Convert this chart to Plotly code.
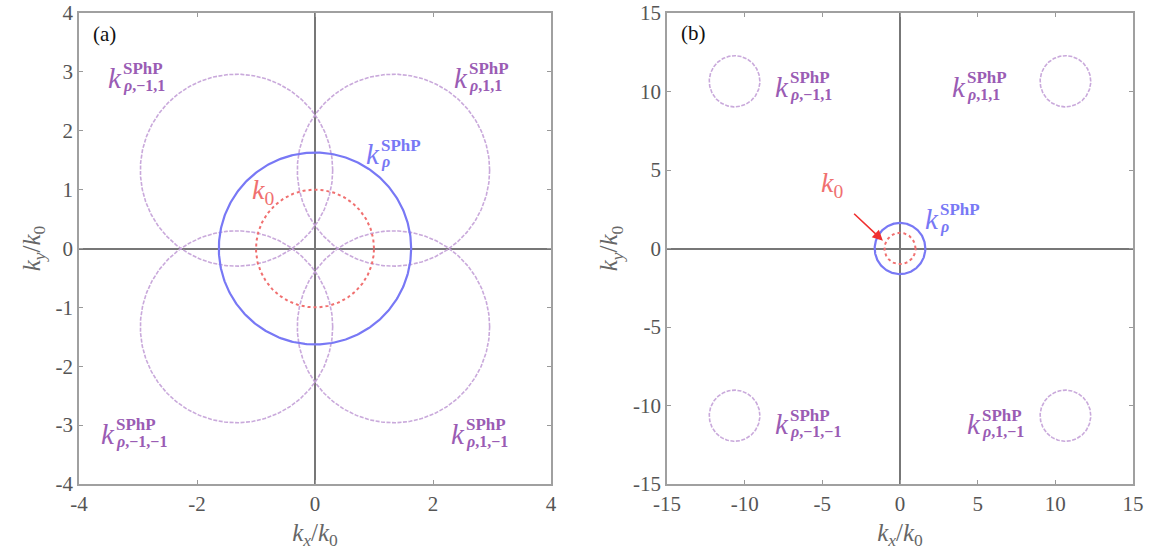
import numpy as np
import plotly.graph_objects as go

# Radii (in units of k0) and reciprocal-lattice offsets for the two cases
k0_radius = 1.0
ksphp_radius = 1.63
G_a = 1.33          # lattice offset, panel (a)
G_b = 10.65         # lattice offset, panel (b)
diff_orders = [(-1, 1), (1, 1), (-1, -1), (1, -1)]

axis_range_a = [-4, 4]
axis_range_b = [-15, 15]
xticks_a = [-4, -2, 0, 2, 4]
yticks_a = [-4, -3, -2, -1, 0, 1, 2, 3, 4]
ticks_b = [-15, -10, -5, 0, 5, 10, 15]

RED = "#f07070"
BLUE = "#7878f5"
PURPLE_LINE = "rgba(195,160,215,0.9)"
PURPLE_TXT = "#9a5cb4"
SERIF = "Liberation Serif, Times New Roman, DejaVu Serif, serif"

theta = np.linspace(0, 2 * np.pi, 361)


def circle(cx, cy, r):
    return cx + r * np.cos(theta), cy + r * np.sin(theta)


fig = go.Figure()

for (xa, ya, G) in [("x", "y", G_a), ("x2", "y2", G_b)]:
    for (m, n) in diff_orders:
        cx, cy = circle(m * G, n * G, ksphp_radius)
        fig.add_trace(go.Scatter(x=cx, y=cy, mode="lines", xaxis=xa, yaxis=ya,
                                 line=dict(color=PURPLE_LINE, width=1.6, dash="4px,1.5px"),
                                 hoverinfo="skip", showlegend=False))
    cx, cy = circle(0, 0, ksphp_radius)
    fig.add_trace(go.Scatter(x=cx, y=cy, mode="lines", xaxis=xa, yaxis=ya,
                             line=dict(color=BLUE, width=2.2),
                             hoverinfo="skip", showlegend=False))
    cx, cy = circle(0, 0, k0_radius)
    fig.add_trace(go.Scatter(x=cx, y=cy, mode="lines", xaxis=xa, yaxis=ya,
                             line=dict(color=RED, width=2, dash="dot"),
                             hoverinfo="skip", showlegend=False))

annotations = []


def stacked_label(xref, yref, x, y, sub, sup, color):
    """k with a stacked superscript and subscript, placed at (x, y)."""
    annotations.append(dict(xref=xref, yref=yref, x=x, y=y, text="<i>k</i>",
                            showarrow=False, xanchor="left", yanchor="middle",
                            font=dict(family=SERIF, size=29, color=color)))
    if sup:
        annotations.append(dict(xref=xref, yref=yref, x=x, y=y, text="<b>" + sup + "</b>",
                                showarrow=False, xanchor="left", yanchor="middle",
                                xshift=15, yshift=9,
                                font=dict(family=SERIF, size=17, color=color)))
    if sub:
        annotations.append(dict(xref=xref, yref=yref, x=x, y=y,
                                text="<b><i>" + sub[0] + "</i>" + sub[1:] + "</b>",
                                showarrow=False, xanchor="left", yanchor="middle",
                                xshift=15, yshift=-8,
                                font=dict(family=SERIF, size=16, color=color)))


# panel (a) labels
stacked_label("x", "y", -3.55, 2.9, "ρ,−1,1", "SPhP", PURPLE_TXT)
stacked_label("x", "y", 2.33, 2.9, "ρ,1,1", "SPhP", PURPLE_TXT)
stacked_label("x", "y", -3.66, -3.15, "ρ,−1,−1", "SPhP", PURPLE_TXT)
stacked_label("x", "y", 2.27, -3.15, "ρ,1,−1", "SPhP", PURPLE_TXT)
stacked_label("x", "y", 0.83, 1.6, "ρ", "SPhP", BLUE)
annotations.append(dict(xref="x", yref="y", x=-1.1, y=0.97, text="<i>k</i><sub>0</sub>",
                        showarrow=False, xanchor="left", yanchor="middle",
                        font=dict(family=SERIF, size=28, color=RED)))

# panel (b) labels
stacked_label("x2", "y2", -8.2, 10.3, "ρ,−1,1", "SPhP", PURPLE_TXT)
stacked_label("x2", "y2", 3.2, 10.3, "ρ,1,1", "SPhP", PURPLE_TXT)
stacked_label("x2", "y2", -8.2, -11.2, "ρ,−1,−1", "SPhP", PURPLE_TXT)
stacked_label("x2", "y2", 4.2, -11.2, "ρ,1,−1", "SPhP", PURPLE_TXT)
stacked_label("x2", "y2", 1.45, 1.9, "ρ", "SPhP", BLUE)
annotations.append(dict(xref="x2", yref="y2", x=-5.2, y=4.1, text="<i>k</i><sub>0</sub>",
                        showarrow=False, xanchor="left", yanchor="middle",
                        font=dict(family=SERIF, size=28, color=RED)))
annotations.append(dict(xref="x2", yref="y2", x=-1.1, y=0.5, ax=-3.05, ay=2.3,
                        axref="x2", ayref="y2", text="", showarrow=True,
                        arrowhead=2, arrowsize=1.3, arrowwidth=1.6, arrowcolor="#f03030"))

# panel tags
annotations.append(dict(xref="x", yref="y", x=-3.8, y=3.65, text="(a)", showarrow=False,
                        xanchor="left", yanchor="middle",
                        font=dict(family=SERIF, size=21, color="#111")))
annotations.append(dict(xref="x2", yref="y2", x=-14.2, y=13.7, text="(b)", showarrow=False,
                        xanchor="left", yanchor="middle",
                        font=dict(family=SERIF, size=21, color="#111")))

tick_font = dict(family=SERIF, size=21, color="#555")
title_font = dict(family=SERIF, size=25, color="#666")


def axis_style(rng, tickvals, domain, anchor, title):
    return dict(range=rng, domain=domain, anchor=anchor, automargin=False,
                tickmode="array", tickvals=tickvals,
                ticktext=[str(v) for v in tickvals],
                ticks="inside", ticklen=4, tickwidth=1, tickcolor="#999",
                mirror="ticks", showline=True, linecolor="#a0a0a0", linewidth=1.6,
                showgrid=False, zeroline=True, zerolinecolor="#777", zerolinewidth=1.8,
                tickfont=tick_font, title=dict(text=title, font=title_font, standoff=8),
                fixedrange=True)


xdom_a = [79 / 1153, 551 / 1153]
xdom_b = [667 / 1153, 1133 / 1153]
ydom = [1 - 484 / 560, 1 - 13 / 560]

xtitle = "<i>k<sub>x</sub></i>/<i>k</i><sub>0</sub>"
ytitle = "<i>k<sub>y</sub></i>/<i>k</i><sub>0</sub>"

fig.update_layout(
    width=1153, height=560,
    margin=dict(l=0, r=0, t=0, b=0),
    paper_bgcolor="white", plot_bgcolor="white",
    xaxis=axis_style(axis_range_a, xticks_a, xdom_a, "y", xtitle),
    yaxis=axis_style(axis_range_a, yticks_a, ydom, "x", ytitle),
    xaxis2=axis_style(axis_range_b, ticks_b, xdom_b, "y2", xtitle),
    yaxis2=axis_style(axis_range_b, ticks_b, ydom, "x2", ytitle),
    annotations=annotations,
    showlegend=False,
)

fig.write_html("out.html", config={"displayModeBar": False})
